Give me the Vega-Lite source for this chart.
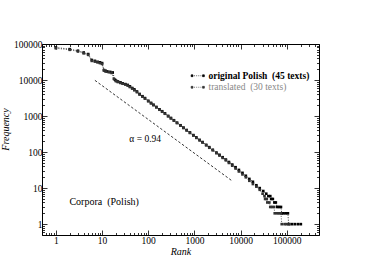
{
  "$schema": "https://vega.github.io/schema/vega-lite/v6.json",
  "width": 277,
  "height": 191,
  "autosize": "none",
  "padding": {"left": 42, "top": 44, "right": 63, "bottom": 42},
  "background": "white",
  "config": {
    "font": "Liberation Serif",
    "view": {"stroke": "black", "strokeWidth": 1},
    "axis": {
      "domain": false, "grid": false,
      "labelFont": "Liberation Serif", "labelFontSize": 9.5, "labelColor": "black",
      "labelOverlap": false, "labelFlush": false,
      "tickColor": "black", "tickWidth": 0.8,
      "titleFont": "Liberation Serif", "titleFontStyle": "italic", "titleFontWeight": "normal",
      "titleFontSize": 10, "titleColor": "black"
    },
    "text": {"font": "Liberation Serif"}
  },
  "datasets": {
    "series": [
      {"series": "original Polish  (45 texts)", "rank": 1, "freq": 80000},
      {"series": "original Polish  (45 texts)", "rank": 2, "freq": 72000},
      {"series": "original Polish  (45 texts)", "rank": 3, "freq": 65000},
      {"series": "original Polish  (45 texts)", "rank": 4, "freq": 58000},
      {"series": "original Polish  (45 texts)", "rank": 5, "freq": 52500},
      {"series": "original Polish  (45 texts)", "rank": 6, "freq": 36000},
      {"series": "original Polish  (45 texts)", "rank": 7, "freq": 34000},
      {"series": "original Polish  (45 texts)", "rank": 8, "freq": 32000},
      {"series": "original Polish  (45 texts)", "rank": 9, "freq": 31000},
      {"series": "original Polish  (45 texts)", "rank": 10, "freq": 29500},
      {"series": "original Polish  (45 texts)", "rank": 11, "freq": 18500},
      {"series": "original Polish  (45 texts)", "rank": 12, "freq": 18000},
      {"series": "original Polish  (45 texts)", "rank": 13, "freq": 17300},
      {"series": "original Polish  (45 texts)", "rank": 15, "freq": 16800},
      {"series": "original Polish  (45 texts)", "rank": 17, "freq": 16200},
      {"series": "original Polish  (45 texts)", "rank": 19, "freq": 10200},
      {"series": "original Polish  (45 texts)", "rank": 20, "freq": 9600},
      {"series": "original Polish  (45 texts)", "rank": 22, "freq": 9100},
      {"series": "original Polish  (45 texts)", "rank": 25, "freq": 8600},
      {"series": "original Polish  (45 texts)", "rank": 28, "freq": 8100},
      {"series": "original Polish  (45 texts)", "rank": 32, "freq": 7700},
      {"series": "original Polish  (45 texts)", "rank": 36, "freq": 7300},
      {"series": "original Polish  (45 texts)", "rank": 40, "freq": 6700},
      {"series": "original Polish  (45 texts)", "rank": 45, "freq": 6000},
      {"series": "original Polish  (45 texts)", "rank": 50, "freq": 5500},
      {"series": "original Polish  (45 texts)", "rank": 57, "freq": 4800},
      {"series": "original Polish  (45 texts)", "rank": 65, "freq": 4100},
      {"series": "original Polish  (45 texts)", "rank": 75, "freq": 3550},
      {"series": "original Polish  (45 texts)", "rank": 85, "freq": 3150},
      {"series": "original Polish  (45 texts)", "rank": 100, "freq": 2650},
      {"series": "original Polish  (45 texts)", "rank": 115, "freq": 2320},
      {"series": "original Polish  (45 texts)", "rank": 130, "freq": 2060},
      {"series": "original Polish  (45 texts)", "rank": 150, "freq": 1790},
      {"series": "original Polish  (45 texts)", "rank": 175, "freq": 1540},
      {"series": "original Polish  (45 texts)", "rank": 200, "freq": 1360},
      {"series": "original Polish  (45 texts)", "rank": 230, "freq": 1190},
      {"series": "original Polish  (45 texts)", "rank": 270, "freq": 1010},
      {"series": "original Polish  (45 texts)", "rank": 310, "freq": 885},
      {"series": "original Polish  (45 texts)", "rank": 360, "freq": 765},
      {"series": "original Polish  (45 texts)", "rank": 420, "freq": 655},
      {"series": "original Polish  (45 texts)", "rank": 500, "freq": 555},
      {"series": "original Polish  (45 texts)", "rank": 580, "freq": 478},
      {"series": "original Polish  (45 texts)", "rank": 680, "freq": 410},
      {"series": "original Polish  (45 texts)", "rank": 800, "freq": 350},
      {"series": "original Polish  (45 texts)", "rank": 950, "freq": 296},
      {"series": "original Polish  (45 texts)", "rank": 1100, "freq": 256},
      {"series": "original Polish  (45 texts)", "rank": 1300, "freq": 218},
      {"series": "original Polish  (45 texts)", "rank": 1500, "freq": 190},
      {"series": "original Polish  (45 texts)", "rank": 1800, "freq": 159},
      {"series": "original Polish  (45 texts)", "rank": 2100, "freq": 137},
      {"series": "original Polish  (45 texts)", "rank": 2500, "freq": 116},
      {"series": "original Polish  (45 texts)", "rank": 3000, "freq": 97},
      {"series": "original Polish  (45 texts)", "rank": 3500, "freq": 84},
      {"series": "original Polish  (45 texts)", "rank": 4100, "freq": 72},
      {"series": "original Polish  (45 texts)", "rank": 4800, "freq": 62},
      {"series": "original Polish  (45 texts)", "rank": 5600, "freq": 53},
      {"series": "original Polish  (45 texts)", "rank": 6600, "freq": 45},
      {"series": "original Polish  (45 texts)", "rank": 7800, "freq": 38},
      {"series": "original Polish  (45 texts)", "rank": 9200, "freq": 32},
      {"series": "original Polish  (45 texts)", "rank": 11000, "freq": 26.5},
      {"series": "original Polish  (45 texts)", "rank": 13000, "freq": 22},
      {"series": "original Polish  (45 texts)", "rank": 15500, "freq": 18},
      {"series": "original Polish  (45 texts)", "rank": 18500, "freq": 15},
      {"series": "original Polish  (45 texts)", "rank": 22000, "freq": 12},
      {"series": "original Polish  (45 texts)", "rank": 26000, "freq": 10},
      {"series": "original Polish  (45 texts)", "rank": 31000, "freq": 8.3},
      {"series": "original Polish  (45 texts)", "rank": 36000, "freq": 7},
      {"series": "original Polish  (45 texts)", "rank": 40000, "freq": 6},
      {"series": "original Polish  (45 texts)", "rank": 44000, "freq": 6},
      {"series": "original Polish  (45 texts)", "rank": 46000, "freq": 5},
      {"series": "original Polish  (45 texts)", "rank": 50000, "freq": 5},
      {"series": "original Polish  (45 texts)", "rank": 54000, "freq": 4},
      {"series": "original Polish  (45 texts)", "rank": 58000, "freq": 4},
      {"series": "original Polish  (45 texts)", "rank": 62000, "freq": 3},
      {"series": "original Polish  (45 texts)", "rank": 68000, "freq": 3},
      {"series": "original Polish  (45 texts)", "rank": 75000, "freq": 3},
      {"series": "original Polish  (45 texts)", "rank": 78000, "freq": 2},
      {"series": "original Polish  (45 texts)", "rank": 85000, "freq": 2},
      {"series": "original Polish  (45 texts)", "rank": 95000, "freq": 2},
      {"series": "original Polish  (45 texts)", "rank": 106000, "freq": 2},
      {"series": "original Polish  (45 texts)", "rank": 110000, "freq": 1},
      {"series": "original Polish  (45 texts)", "rank": 130000, "freq": 1},
      {"series": "original Polish  (45 texts)", "rank": 150000, "freq": 1},
      {"series": "original Polish  (45 texts)", "rank": 175000, "freq": 1},
      {"series": "original Polish  (45 texts)", "rank": 202000, "freq": 1},
      {"series": "translated  (30 texts)", "rank": 1, "freq": 76000},
      {"series": "translated  (30 texts)", "rank": 2, "freq": 69000},
      {"series": "translated  (30 texts)", "rank": 3, "freq": 62000},
      {"series": "translated  (30 texts)", "rank": 4, "freq": 55000},
      {"series": "translated  (30 texts)", "rank": 5, "freq": 50000},
      {"series": "translated  (30 texts)", "rank": 6, "freq": 34000},
      {"series": "translated  (30 texts)", "rank": 7, "freq": 32500},
      {"series": "translated  (30 texts)", "rank": 8, "freq": 31000},
      {"series": "translated  (30 texts)", "rank": 9, "freq": 29500},
      {"series": "translated  (30 texts)", "rank": 10, "freq": 28000},
      {"series": "translated  (30 texts)", "rank": 11, "freq": 19000},
      {"series": "translated  (30 texts)", "rank": 12, "freq": 17200},
      {"series": "translated  (30 texts)", "rank": 14, "freq": 16500},
      {"series": "translated  (30 texts)", "rank": 16, "freq": 15800},
      {"series": "translated  (30 texts)", "rank": 18, "freq": 10800},
      {"series": "translated  (30 texts)", "rank": 20, "freq": 9300},
      {"series": "translated  (30 texts)", "rank": 22, "freq": 8800},
      {"series": "translated  (30 texts)", "rank": 25, "freq": 8300},
      {"series": "translated  (30 texts)", "rank": 28, "freq": 7900},
      {"series": "translated  (30 texts)", "rank": 32, "freq": 7500},
      {"series": "translated  (30 texts)", "rank": 36, "freq": 7000},
      {"series": "translated  (30 texts)", "rank": 40, "freq": 6400},
      {"series": "translated  (30 texts)", "rank": 45, "freq": 5800},
      {"series": "translated  (30 texts)", "rank": 50, "freq": 5200},
      {"series": "translated  (30 texts)", "rank": 57, "freq": 4600},
      {"series": "translated  (30 texts)", "rank": 65, "freq": 3950},
      {"series": "translated  (30 texts)", "rank": 75, "freq": 3450},
      {"series": "translated  (30 texts)", "rank": 85, "freq": 3050},
      {"series": "translated  (30 texts)", "rank": 100, "freq": 2580},
      {"series": "translated  (30 texts)", "rank": 115, "freq": 2250},
      {"series": "translated  (30 texts)", "rank": 130, "freq": 2000},
      {"series": "translated  (30 texts)", "rank": 150, "freq": 1740},
      {"series": "translated  (30 texts)", "rank": 175, "freq": 1500},
      {"series": "translated  (30 texts)", "rank": 200, "freq": 1320},
      {"series": "translated  (30 texts)", "rank": 230, "freq": 1160},
      {"series": "translated  (30 texts)", "rank": 270, "freq": 985},
      {"series": "translated  (30 texts)", "rank": 310, "freq": 860},
      {"series": "translated  (30 texts)", "rank": 360, "freq": 745},
      {"series": "translated  (30 texts)", "rank": 420, "freq": 638},
      {"series": "translated  (30 texts)", "rank": 500, "freq": 540},
      {"series": "translated  (30 texts)", "rank": 580, "freq": 465},
      {"series": "translated  (30 texts)", "rank": 680, "freq": 398},
      {"series": "translated  (30 texts)", "rank": 800, "freq": 340},
      {"series": "translated  (30 texts)", "rank": 950, "freq": 288},
      {"series": "translated  (30 texts)", "rank": 1100, "freq": 248},
      {"series": "translated  (30 texts)", "rank": 1300, "freq": 211},
      {"series": "translated  (30 texts)", "rank": 1500, "freq": 184},
      {"series": "translated  (30 texts)", "rank": 1800, "freq": 154},
      {"series": "translated  (30 texts)", "rank": 2100, "freq": 132},
      {"series": "translated  (30 texts)", "rank": 2500, "freq": 112},
      {"series": "translated  (30 texts)", "rank": 3000, "freq": 93},
      {"series": "translated  (30 texts)", "rank": 3500, "freq": 80},
      {"series": "translated  (30 texts)", "rank": 4100, "freq": 69},
      {"series": "translated  (30 texts)", "rank": 4800, "freq": 59},
      {"series": "translated  (30 texts)", "rank": 5600, "freq": 50},
      {"series": "translated  (30 texts)", "rank": 6600, "freq": 42},
      {"series": "translated  (30 texts)", "rank": 7800, "freq": 35},
      {"series": "translated  (30 texts)", "rank": 9200, "freq": 29},
      {"series": "translated  (30 texts)", "rank": 11000, "freq": 24},
      {"series": "translated  (30 texts)", "rank": 13000, "freq": 20},
      {"series": "translated  (30 texts)", "rank": 15500, "freq": 16},
      {"series": "translated  (30 texts)", "rank": 18500, "freq": 13},
      {"series": "translated  (30 texts)", "rank": 22000, "freq": 11},
      {"series": "translated  (30 texts)", "rank": 26000, "freq": 9},
      {"series": "translated  (30 texts)", "rank": 30000, "freq": 7},
      {"series": "translated  (30 texts)", "rank": 33000, "freq": 6},
      {"series": "translated  (30 texts)", "rank": 34000, "freq": 5},
      {"series": "translated  (30 texts)", "rank": 37000, "freq": 5},
      {"series": "translated  (30 texts)", "rank": 38000, "freq": 4},
      {"series": "translated  (30 texts)", "rank": 42000, "freq": 4},
      {"series": "translated  (30 texts)", "rank": 44000, "freq": 3},
      {"series": "translated  (30 texts)", "rank": 48000, "freq": 3},
      {"series": "translated  (30 texts)", "rank": 53000, "freq": 3},
      {"series": "translated  (30 texts)", "rank": 55000, "freq": 2},
      {"series": "translated  (30 texts)", "rank": 62000, "freq": 2},
      {"series": "translated  (30 texts)", "rank": 68000, "freq": 2},
      {"series": "translated  (30 texts)", "rank": 75000, "freq": 2},
      {"series": "translated  (30 texts)", "rank": 78000, "freq": 1},
      {"series": "translated  (30 texts)", "rank": 90000, "freq": 1},
      {"series": "translated  (30 texts)", "rank": 100000, "freq": 1},
      {"series": "translated  (30 texts)", "rank": 115000, "freq": 1}
    ],
    "fit": [
      {"rank": 7, "freq": 9800},
      {"rank": 6500, "freq": 16}
    ],
    "notes": [
      {"rank": 86, "freq": 230, "label": "α = 0.94", "size": "small"},
      {"rank": 11.1, "freq": 4.16, "label": "Corpora\u00a0 (Polish)", "size": "large"}
    ]
  },
  "layer": [
    {
      "data": {"name": "fit"},
      "mark": {"type": "line", "color": "black", "strokeWidth": 0.8, "strokeDash": [2.5, 2]},
      "encoding": {
        "x": {
          "field": "rank", "type": "quantitative",
          "scale": {"type": "log", "domain": [0.5, 500000], "nice": false},
          "axis": {
            "orient": "top", "labels": false, "title": null,
            "values": [0.5,0.6,0.7,0.8,0.9,1,2,3,4,5,6,7,8,9,10,20,30,40,50,60,70,80,90,100,200,300,400,500,600,700,800,900,1000,2000,3000,4000,5000,6000,7000,8000,9000,10000,20000,30000,40000,50000,60000,70000,80000,90000,100000,200000,300000,400000,500000],
            "tickSize": {"condition": {"test": "indexof([1,10,100,1000,10000,100000], datum.value) >= 0", "value": -5}, "value": -2.5}
          }
        },
        "y": {
          "field": "freq", "type": "quantitative",
          "scale": {"type": "log", "domain": [0.5, 100000], "nice": false},
          "axis": {
            "orient": "right", "labels": false, "title": null,
            "values": [0.5,0.6,0.7,0.8,0.9,1,2,3,4,5,6,7,8,9,10,20,30,40,50,60,70,80,90,100,200,300,400,500,600,700,800,900,1000,2000,3000,4000,5000,6000,7000,8000,9000,10000,20000,30000,40000,50000,60000,70000,80000,90000,100000],
            "tickSize": {"condition": {"test": "indexof([1,10,100,1000,10000,100000], datum.value) >= 0", "value": -5}, "value": -2.5}
          }
        }
      }
    },
    {
      "data": {"name": "series"},
      "mark": {
        "type": "line", "strokeWidth": 0.8, "strokeDash": [1, 1.5],
        "point": {"filled": true, "shape": "square", "size": 7}
      },
      "encoding": {
        "x": {
          "field": "rank", "type": "quantitative",
          "axis": {
            "orient": "bottom", "title": "Rank", "titleY": 16, "titleBaseline": "middle",
            "values": [0.5,0.6,0.7,0.8,0.9,1,2,3,4,5,6,7,8,9,10,20,30,40,50,60,70,80,90,100,200,300,400,500,600,700,800,900,1000,2000,3000,4000,5000,6000,7000,8000,9000,10000,20000,30000,40000,50000,60000,70000,80000,90000,100000,200000,300000,400000,500000],
            "labelExpr": "indexof([1,10,100,1000,10000,100000], datum.value) >= 0 ? format(datum.value, 'd') : ''",
            "labelPadding": 5,
            "tickSize": {"condition": {"test": "indexof([1,10,100,1000,10000,100000], datum.value) >= 0", "value": -5}, "value": -2.5}
          }
        },
        "y": {
          "field": "freq", "type": "quantitative",
          "axis": {
            "orient": "left", "title": "Frequency", "titleX": -37, "titleY": 85, "titleBaseline": "middle", "titleAlign": "center",
            "values": [0.5,0.6,0.7,0.8,0.9,1,2,3,4,5,6,7,8,9,10,20,30,40,50,60,70,80,90,100,200,300,400,500,600,700,800,900,1000,2000,3000,4000,5000,6000,7000,8000,9000,10000,20000,30000,40000,50000,60000,70000,80000,90000,100000],
            "labelExpr": "indexof([1,10,100,1000,10000,100000], datum.value) >= 0 ? format(datum.value, 'd') : ''",
            "labelPadding": 5,
            "tickSize": {"condition": {"test": "indexof([1,10,100,1000,10000,100000], datum.value) >= 0", "value": -5}, "value": -2.5}
          }
        },
        "color": {
          "field": "series", "type": "nominal",
          "scale": {"domain": ["original Polish  (45 texts)", "translated  (30 texts)"], "range": ["black", "#333333"]},
          "legend": {
            "orient": "none", "legendX": 151, "legendY": 27, "title": null, "padding": 0,
            "symbolType": "M-2.2,-0.3H-1.6V0.3H-2.2Z M1.6,-0.3H2.2V0.3H1.6Z M-1.2,0H-0.9 M-0.5,0H-0.2 M0.2,0H0.5 M0.9,0H1.2",
            "symbolSize": 36, "symbolStrokeWidth": 0.7,
            "labelFont": "Liberation Serif", "labelFontSize": 9.5, "labelOffset": 6, "rowPadding": 0.5,
            "labelExpr": "replace(datum.label, '  ', '\u00a0 ')",
            "encode": {
              "symbols": {"update": {
                "fill": {"signal": "indexof(datum.value, 'translated') >= 0 ? '#333333' : 'black'"},
                "stroke": {"signal": "indexof(datum.value, 'translated') >= 0 ? '#333333' : 'black'"}
              }},
              "labels": {"update": {
                "fill": {"signal": "indexof(datum.value, 'translated') >= 0 ? '#888888' : 'black'"},
                "fontWeight": {"signal": "indexof(datum.value, 'translated') >= 0 ? 'normal' : 'bold'"}
              }}
            }
          }
        }
      }
    },
    {
      "data": {"name": "notes"},
      "mark": {"type": "text", "color": "black", "align": "center", "baseline": "middle"},
      "encoding": {
        "x": {"field": "rank", "type": "quantitative", "axis": null},
        "y": {"field": "freq", "type": "quantitative", "axis": null},
        "text": {"field": "label"},
        "size": {"field": "size", "type": "nominal", "scale": {"domain": ["small", "large"], "range": [9.5, 10]}, "legend": null}
      }
    }
  ],
  "resolve": {"axis": {"x": "independent", "y": "independent"}}
}
